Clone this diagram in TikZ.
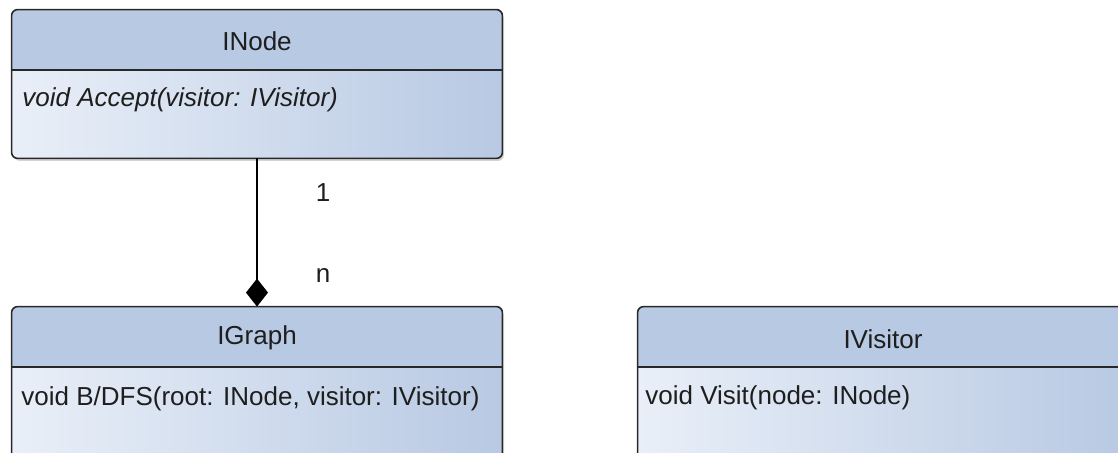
\documentclass[tikz,border=0pt]{standalone}
\usepackage{fontspec}
\setmainfont{Liberation Sans}
\usetikzlibrary{shadows,arrows.meta}

\definecolor{umlhead}{RGB}{184,201,227}
\definecolor{umllight}{RGB}{233,239,248}
\definecolor{umlline}{RGB}{40,40,40}
\definecolor{umltext}{RGB}{30,30,30}

\tikzset{
  umlbox/.style={rectangle, rounded corners=3pt, minimum width=245pt, minimum height=74pt,
    inner sep=0pt, left color=umllight, right color=umlhead,
    drop shadow={opacity=0.35, shadow xshift=1pt, shadow yshift=-1.5pt}},
  umlborder/.style={draw=umlline, line width=0.8pt, rounded corners=3pt},
  umltitle/.style={text=umltext, font=\fontsize{13}{15}\selectfont},
  umlmethod/.style={text=umltext, anchor=west, inner sep=0pt, font=\fontsize{13}{15}\selectfont},
  multi/.style={text=umltext, font=\fontsize{13}{15}\selectfont},
}

\begin{document}
\begin{tikzpicture}[x=0.5pt, y=-0.5pt]

        \clip (0,0) rectangle (1118,453);

        % INode
        \node [umlbox] (inode) at (257,84) {};
        \fill [umlhead, rounded corners=3pt] (12,70) |- (257,10) -| (502,70) [sharp corners] -- cycle;
        \draw [umlborder] (inode.south west) rectangle (inode.north east);
        \draw [umlline, line width=0.8pt] (12,70) -- (502,70);
        \node [umltitle] (inodetitle) at (257,41) {INode};
        \node [umlmethod] (inodeaccept) at (22,100) {\itshape void Accept(visitor: IVisitor)};

        % IGraph
        \node [umlbox, minimum height=78pt] (igraph) at (257,385) {};
        \fill [umlhead, rounded corners=3pt] (12,367) |- (257,307) -| (502,367) [sharp corners] -- cycle;
        \draw [umlborder] (igraph.south west) rectangle (igraph.north east);
        \draw [umlline, line width=0.8pt] (12,367) -- (502,367);
        \node [umltitle] (igraphtitle) at (257,338) {IGraph};
        \node [umlmethod] (igraphsearch) at (21,399) {void B/DFS(root: INode, visitor: IVisitor)};

        % IVisitor
        \node [umlbox, minimum height=78pt] (ivisitor) at (883,385) {};
        \fill [umlhead, rounded corners=3pt] (637,367) |- (883,307) -| (1129,367) [sharp corners] -- cycle;
        \draw [umlborder] (ivisitor.south west) rectangle (ivisitor.north east);
        \draw [umlline, line width=0.8pt] (637,367) -- (1129,367);
        \node [umltitle] (ivisitortitle) at (883,339) {IVisitor};
        \node [umlmethod] (ivisitorvisit) at (645,398) {void Visit(node: INode)};

        % composition
        \draw [black, line width=0.8pt, -{Diamond[length=14pt, width=11pt]}] (inode.south) -- (igraph.north);
        \node [multi] (multone) at (323,193) {1};
        \node [multi] (multn) at (323,276) {n};

\end{tikzpicture}
\end{document}
